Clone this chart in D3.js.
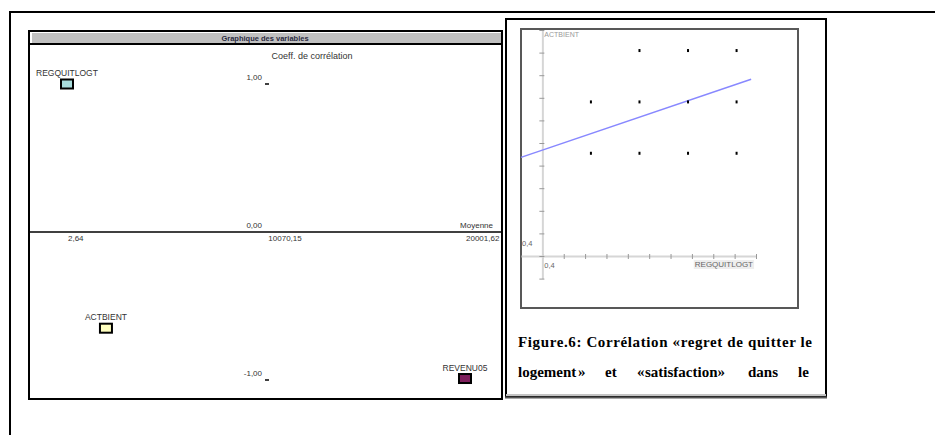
<!DOCTYPE html>
<html>
<head>
<meta charset="utf-8">
<script src="https://cdn.jsdelivr.net/npm/d3@7"></script>
<style>
  body { margin: 0; background: #fff; }
  svg { display: block; font-family: Arial, "Liberation Sans", sans-serif; }
</style>
</head>
<body>
<div id="chart"></div>
<script>
// left panel: map of the variables (mean vs correlation coefficient)
const variables = ["REGQUITLOGT", "ACTBIENT", "REVENU05"];
const variableMeans = [2.64, 1960, 20001.62];
const variableCorr = [1.00, -0.65, -0.99];
const variableColors = ["#a8dcdc", "#ffffc0", "#7e1f5c"];
const meanTicks = [2.64, 10070.15, 20001.62];
const meanTickLabels = ["2,64", "10070,15", "20001,62"];
const corrTicks = [1, 0, -1];
const corrTickLabels = ["1,00", "0,00", "-1,00"];

// right panel: scatter REGQUITLOGT x ACTBIENT with fitted line
const scatterX = [2, 3, 4, 1, 2, 3, 4, 1, 2, 3, 4];
const scatterY = [4, 4, 4, 3, 3, 3, 3, 2, 2, 2, 2];
const fitX = [-0.44, 4.3];
const fitY = [1.92, 3.44];
const gridStep = 0.44;
const originLabel = "0,4";
const xName = "REGQUITLOGT";
const yName = "ACTBIENT";

const captionLine1 = "Figure.6: Corrélation «regret de quitter le";
const captionLine2 = ["logement", "»", "et", "«", "satisfaction»", "dans", "le"];

const svg = d3.select('#chart').append('svg')
    .attr('width', 935)
    .attr('height', 435);

// page frame
svg.append('path')
    .attr('d', 'M10,435V12H935')
    .attr('fill', 'none')
    .attr('stroke', '#000')
    .attr('stroke-width', 2);

// ---------- left panel ----------
const left = svg.append('g');
left.append('clipPath').attr('id', 'leftClip')
    .append('rect').attr('x', 30).attr('y', 32).attr('width', 472).attr('height', 366);

left.append('rect')
    .attr('x', 29).attr('y', 31).attr('width', 473).attr('height', 368)
    .attr('fill', '#fff').attr('stroke', '#000').attr('stroke-width', 2);
left.append('rect')
    .attr('x', 32).attr('y', 33).attr('width', 469).attr('height', 10)
    .attr('fill', '#c0c0c0');
left.append('line')
    .attr('x1', 29).attr('x2', 502).attr('y1', 44).attr('y2', 44)
    .attr('stroke', '#000').attr('stroke-width', 2);
left.append('text')
    .attr('x', 265).attr('y', 41)
    .attr('text-anchor', 'middle')
    .style('font-size', '7.5px').style('font-weight', 'bold')
    .attr('fill', '#2a2a40')
    .text('Graphique des variables');

const xL = d3.scaleLinear().domain([2.64, 20001.62]).range([67, 465]);
const yL = d3.scaleLinear().domain([-1, 1]).range([380, 84]);

left.append('text')
    .attr('x', 312).attr('y', 59)
    .attr('text-anchor', 'middle')
    .style('font-size', '9px').attr('fill', '#333')
    .text('Coeff. de corrélation');

left.append('line')
    .attr('x1', 29).attr('x2', 502)
    .attr('y1', yL(0)).attr('y2', yL(0))
    .attr('stroke', '#000').attr('stroke-width', 1.5);

left.append('text')
    .attr('x', 493).attr('y', yL(0) - 4)
    .attr('text-anchor', 'end')
    .style('font-size', '8px').attr('fill', '#333')
    .text('Moyenne');

left.append('g').attr('clip-path', 'url(#leftClip)')
    .selectAll('text')
    .data(meanTicks)
    .join('text')
    .attr('x', d => xL(d) + 1)
    .attr('y', yL(0) + 9)
    .style('font-size', '8px').attr('fill', '#333')
    .text((d, i) => meanTickLabels[i]);

left.selectAll('.corr-label')
    .data(corrTicks)
    .join('text')
    .attr('class', 'corr-label')
    .attr('x', 262)
    .attr('y', d => yL(d) - 4)
    .attr('text-anchor', 'end')
    .style('font-size', '8px').attr('fill', '#333')
    .text((d, i) => corrTickLabels[i]);

left.selectAll('.corr-tick')
    .data(corrTicks.filter(d => d !== 0))
    .join('line')
    .attr('class', 'corr-tick')
    .attr('x1', 265).attr('x2', 269)
    .attr('y1', d => yL(d)).attr('y2', d => yL(d))
    .attr('stroke', '#000').attr('stroke-width', 1.5);

const varNodes = left.selectAll('.var')
    .data(variables)
    .join('g')
    .attr('class', 'var')
    .attr('transform', (d, i) => `translate(${xL(variableMeans[i])},${yL(variableCorr[i])})`);

varNodes.append('rect')
    .attr('x', -6).attr('y', -4.5)
    .attr('width', 12).attr('height', 9)
    .attr('fill', (d, i) => variableColors[i])
    .attr('stroke', '#000').attr('stroke-width', 2);

varNodes.append('text')
    .attr('y', -8)
    .attr('text-anchor', 'middle')
    .style('font-size', '8.5px').attr('fill', '#333')
    .text(d => d);

// ---------- right panel ----------
const right = svg.append('g');
right.append('rect')
    .attr('x', 506).attr('y', 19).attr('width', 320).attr('height', 377)
    .attr('fill', '#fff').attr('stroke', '#000').attr('stroke-width', 2);
right.append('line')
    .attr('x1', 506).attr('x2', 826).attr('y1', 395).attr('y2', 395)
    .attr('stroke', '#c4c4c4').attr('stroke-width', 2);
right.append('line')
    .attr('x1', 505).attr('x2', 827).attr('y1', 397.5).attr('y2', 397.5)
    .attr('stroke', '#555').attr('stroke-width', 2);
right.append('rect')
    .attr('x', 521).attr('y', 29).attr('width', 277).attr('height', 279)
    .attr('fill', 'none').attr('stroke', '#585858').attr('stroke-width', 2);

const xR = d3.scaleLinear().domain([-0.44, 4.4]).range([521, 756]);
const yR = d3.scaleLinear().domain([-0.44, 4.4]).range([278.6, 30]);

const xTicks = d3.range(0, 11).map(i => i * gridStep);
const yTicks = d3.range(-1, 11).map(i => i * gridStep);

const gx = right.append('g')
    .attr('transform', `translate(0,${yR(0)})`)
    .call(d3.axisBottom(xR).tickValues(xTicks).tickSizeOuter(0).tickSizeInner(3).tickFormat(''));
gx.select('.domain').attr('stroke', '#d6d6d6').attr('stroke-width', 2);
gx.selectAll('.tick line').attr('stroke', '#999').attr('y1', -2);

const gy = right.append('g')
    .attr('transform', `translate(${xR(0)},0)`)
    .call(d3.axisLeft(yR).tickValues(yTicks).tickSizeOuter(0).tickSizeInner(3).tickFormat(''));
gy.select('.domain').attr('stroke', '#d6d6d6').attr('stroke-width', 2);
gy.selectAll('.tick line').attr('stroke', '#999').attr('x1', 2);

right.append('path')
    .datum(fitX.map((x, i) => [x, fitY[i]]))
    .attr('d', d3.line().x(d => xR(d[0])).y(d => yR(d[1])))
    .attr('fill', 'none')
    .attr('stroke', '#8888ff')
    .attr('stroke-width', 1.5);

right.selectAll('.pt')
    .data(scatterX)
    .join('rect')
    .attr('class', 'pt')
    .attr('x', d => xR(d) - 1)
    .attr('y', (d, i) => yR(scatterY[i]) - 1.5)
    .attr('width', 2).attr('height', 3)
    .attr('fill', '#000');

right.append('text')
    .attr('x', xR(0) + 2).attr('y', 37)
    .style('font-size', '7px').attr('fill', '#999')
    .text(yName);

right.append('text')
    .attr('x', 522).attr('y', yR(0) - 10)
    .style('font-size', '7.5px').attr('fill', '#666')
    .text(originLabel);
right.append('text')
    .attr('x', xR(0) + 2).attr('y', yR(0) + 12)
    .style('font-size', '7.5px').attr('fill', '#666')
    .text(originLabel);

const xNameText = right.append('text')
    .attr('x', 753).attr('y', yR(0) + 11)
    .attr('text-anchor', 'end')
    .style('font-size', '8px').attr('fill', '#666')
    .text(xName);
const bb = xNameText.node().getBBox();
right.insert('rect', () => xNameText.node())
    .attr('x', bb.x - 1).attr('y', bb.y).attr('width', bb.width + 2).attr('height', bb.height)
    .attr('fill', '#eeeeee');

// caption
const caption = right.append('g')
    .style('font-family', '"Liberation Serif", "Times New Roman", serif')
    .style('font-weight', 'bold')
    .style('font-size', '15px')
    .attr('fill', '#000');

caption.append('text')
    .attr('x', 518).attr('y', 347)
    .attr('textLength', 294)
    .attr('lengthAdjust', 'spacing')
    .text(captionLine1);

const line2X = [518, 578, 605, 637, 645, 748, 798];
caption.selectAll('.w2')
    .data(captionLine2)
    .join('text')
    .attr('class', 'w2')
    .attr('x', (d, i) => line2X[i])
    .attr('y', 377)
    .text(d => d);
</script>
</body>
</html>
